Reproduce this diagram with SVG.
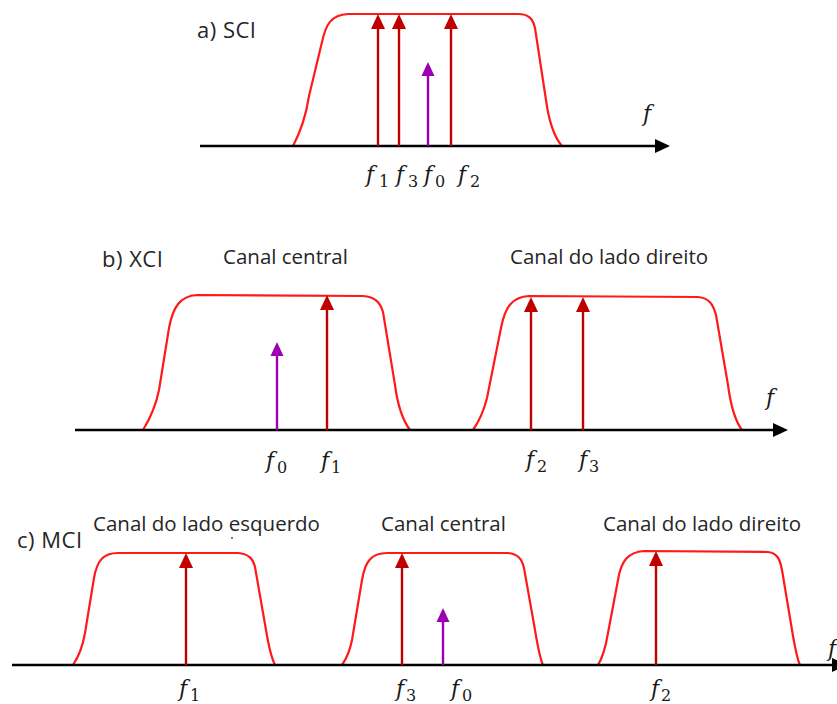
<svg xmlns="http://www.w3.org/2000/svg" width="837" height="704" viewBox="0 0 837 704">
<style>
.bg{fill:#fff}
.axis{stroke:#000;stroke-width:2.5;fill:none}
.filt{stroke:#FF1A1A;stroke-width:2.2;fill:none;stroke-linejoin:round}
.tone{stroke:#C00000;stroke-width:2.4;fill:none}
.pump{stroke:#9C00B0;stroke-width:2.4;fill:none}
.lbl{font-family:"Open Sans",sans-serif;font-size:20.5px;fill:#262626}
.pl{font-size:22px;letter-spacing:0.5px}
.m{font-family:"DejaVu Serif",serif;font-style:italic;font-size:22px;fill:#1a1a1a}
.s{font-style:normal;font-size:16px}
</style>
<defs>
<marker id="ahk" markerUnits="userSpaceOnUse" markerWidth="16" markerHeight="16" viewBox="0 0 16 16" refX="0" refY="8" orient="auto"><path d="M0,1 L15,8 L0,15 z" fill="#000"/></marker>
<marker id="ahr" markerUnits="userSpaceOnUse" markerWidth="16" markerHeight="16" viewBox="0 0 16 16" refX="0" refY="8" orient="auto"><path d="M0,1 L15,8 L0,15 z" fill="#C00000"/></marker>
<marker id="ahp" markerUnits="userSpaceOnUse" markerWidth="16" markerHeight="16" viewBox="0 0 16 16" refX="0" refY="8" orient="auto"><path d="M0,1.5 L14,8 L0,14.5 z" fill="#9C00B0"/></marker>
</defs>
<rect class="bg" x="0" y="0" width="837" height="704"/>

<g id="panel-a">
<text class="lbl pl" x="197" y="38">a) SCI</text>
<path class="filt" d="M293,146 C301,131 306,116 309,96 L322,42 C326,24 331,15 348,14 L518,14 C529,14 533,19 535,28 L546,100 C549,122 555,138 562,146"/>
<text class="m" x="643" y="121">f</text>
</g>

<g id="panel-b">
<text class="lbl pl" x="102" y="267">b) XCI</text>
<text class="lbl" x="223" y="264">Canal central</text>
<text class="lbl" x="510" y="264">Canal do lado direito</text>
<path class="filt" d="M143,430 C151,417 156,405 159,390 L169,328 C173,307 180,296 197,295 L363,296 C375,297 380,302 383,312 L395,385 C398,408 404,422 410,430"/>
<path class="filt" d="M473,430 C480,420 484,410 487,398 L501,328 C505,307 512,297 529,296 L698,297 C709,298 713,304 716,315 L728,385 C731,408 736,422 742,430"/>
<text class="m" x="766" y="405">f</text>
</g>

<g id="panel-c">
<text class="lbl pl" x="17" y="548">c) MCI</text>
<text class="lbl" x="93" y="531">Canal do lado esquerdo</text>
<text class="lbl" x="381" y="531">Canal central</text>
<text class="lbl" x="603" y="531">Canal do lado direito</text>
<circle cx="232" cy="538" r="1" fill="#555"/>
<path class="filt" d="M73,665 C79,656 83,645 85,633 L94,578 C97,561 103,553 118,553 L238,553 C249,554 253,559 255,567 L266,630 C269,648 272,659 275,665"/>
<path class="filt" d="M342,665 C347,658 350,650 352,640 L362,580 C365,562 371,553 387,553 L508,553 C518,554 522,559 524,568 L535,630 C538,648 540,659 543,665"/>
<path class="filt" d="M598,665 C603,657 606,645 608,633 L618,580 C621,561 628,552 644,551 L768,552 C777,553 780,559 782,570 L792,630 C795,648 797,659 800,665"/>
<text class="m" x="828" y="656">f</text>
</g>

<g id="connectors">
<line class="axis" x1="200" y1="146" x2="655" y2="146" marker-end="url(#ahk)"/>
<line class="axis" x1="75" y1="430" x2="773" y2="430" marker-end="url(#ahk)"/>
<line class="axis" x1="12" y1="665" x2="832" y2="665" marker-end="url(#ahk)"/>

<line class="tone" x1="378" y1="146" x2="378" y2="29" marker-end="url(#ahr)"/>
<line class="tone" x1="399" y1="146" x2="399" y2="29" marker-end="url(#ahr)"/>
<line class="tone" x1="451" y1="146" x2="451" y2="29" marker-end="url(#ahr)"/>
<line class="pump" x1="428" y1="146" x2="428" y2="76" marker-end="url(#ahp)"/>

<line class="tone" x1="327" y1="430" x2="327" y2="310" marker-end="url(#ahr)"/>
<line class="tone" x1="531" y1="430" x2="531" y2="312" marker-end="url(#ahr)"/>
<line class="tone" x1="583" y1="430" x2="583" y2="312" marker-end="url(#ahr)"/>
<line class="pump" x1="277" y1="430" x2="277" y2="356" marker-end="url(#ahp)"/>

<line class="tone" x1="186" y1="665" x2="186" y2="568" marker-end="url(#ahr)"/>
<line class="tone" x1="402" y1="665" x2="402" y2="568" marker-end="url(#ahr)"/>
<line class="tone" x1="656" y1="665" x2="656" y2="566" marker-end="url(#ahr)"/>
<line class="pump" x1="443" y1="665" x2="443" y2="622" marker-end="url(#ahp)"/>
</g>

<g id="freq-labels">
<text class="m" x="366" y="182">f<tspan class="s" x="379" y="187">1</tspan></text>
<text class="m" x="396" y="182">f<tspan class="s" x="408" y="187">3</tspan></text>
<text class="m" x="424" y="182">f<tspan class="s" x="435" y="187">0</tspan></text>
<text class="m" x="458" y="182">f<tspan class="s" x="470" y="187">2</tspan></text>

<text class="m" x="266" y="468">f<tspan class="s" x="277" y="473">0</tspan></text>
<text class="m" x="321" y="468">f<tspan class="s" x="331" y="473">1</tspan></text>
<text class="m" x="526" y="467">f<tspan class="s" x="537" y="472">2</tspan></text>
<text class="m" x="579" y="467">f<tspan class="s" x="589" y="472">3</tspan></text>

<text class="m" x="179" y="696">f<tspan class="s" x="190" y="701">1</tspan></text>
<text class="m" x="396" y="696">f<tspan class="s" x="406" y="701">3</tspan></text>
<text class="m" x="451" y="696">f<tspan class="s" x="462" y="701">0</tspan></text>
<text class="m" x="651" y="696">f<tspan class="s" x="661" y="701">2</tspan></text>
</g>
</svg>
